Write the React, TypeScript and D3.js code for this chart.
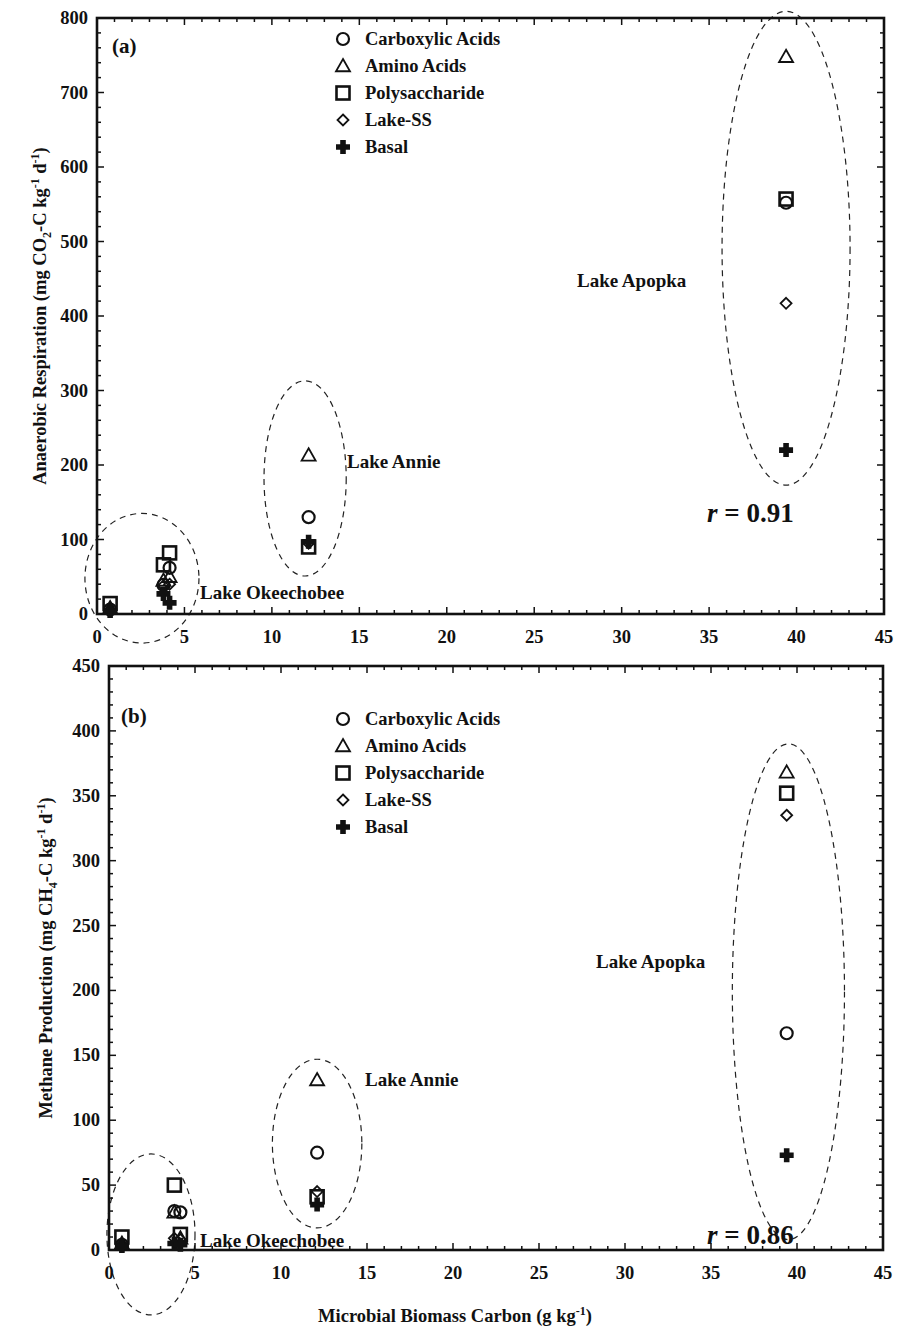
import React from 'react';
import * as d3 from 'd3';

// microbial biomass carbon (g/kg) per sampling site
const sites = ['Okeechobee 1', 'Okeechobee 2', 'Okeechobee 3', 'Annie', 'Apopka'];
const mbc = [0.75, 3.8, 4.15, 12.1, 39.4];

// (a) anaerobic respiration, mg CO2-C/kg/d
const carboxylicA = [6, 39, 62, 130, 552];
const aminoA = [8, 45, 50, 213, 748];
const polyA = [14, 66, 82, 90, 557];
const lakeSSA = [5, 38, 40, 95, 417];
const basalA = [4, 27, 15, 97, 220];

// (b) methane production, mg CH4-C/kg/d
const carboxylicB = [4, 30, 29, 75, 167];
const aminoB = [5, 29, 9, 131, 368];
const polyB = [10, 50, 12, 41, 352];
const lakeSSB = [4, 9, 8, 45, 335];
const basalB = [3, 5, 4, 35, 73];

const seriesNames = ['Carboxylic Acids', 'Amino Acids', 'Polysaccharide', 'Lake-SS', 'Basal'];
const seriesShapes = ['circle', 'triangle', 'square', 'diamond', 'plus'];
const xTicks = [0, 5, 10, 15, 20, 25, 30, 35, 40, 45];

// lake groupings, in data units [cx, cy, rx, ry]
const lakeNames = ['Lake Okeechobee', 'Lake Annie', 'Lake Apopka'];
const ellipsesA = [[2.57, 48, 3.26, 87], [11.9, 182, 2.35, 131], [39.4, 491, 3.66, 318]];
const ellipsesB = [[2.44, 12, 2.56, 62], [12.1, 82, 2.6, 65], [39.5, 199, 3.26, 191]];

const FONT = '"Liberation Serif", "Times New Roman", serif';

const Marker = ({shape, x, y}) => {
    if (shape === 'circle') {
        return <circle cx={x} cy={y} r={6} fill="none" stroke="#111" strokeWidth={2.2}/>;
    }
    if (shape === 'triangle') {
        const s = 7;
        return <path d={`M${x},${y - s}L${x + s},${y + s * 0.75}L${x - s},${y + s * 0.75}Z`}
                     fill="none" stroke="#111" strokeWidth={1.8}/>;
    }
    if (shape === 'square') {
        return <rect x={x - 6.5} y={y - 6.5} width={13} height={13} fill="none" stroke="#111" strokeWidth={2.6}/>;
    }
    if (shape === 'diamond') {
        const s = 5.5;
        return <path d={`M${x},${y - s}L${x + s},${y}L${x},${y + s}L${x - s},${y}Z`}
                     fill="none" stroke="#111" strokeWidth={1.8}/>;
    }
    // filled plus
    const a = 7, w = 2.8;
    return <path d={`M${x - w},${y - a}H${x + w}V${y - w}H${x + a}V${y + w}H${x + w}V${y + a}H${x - w}V${y + w}H${x - a}V${y - w}H${x - w}Z`}
                 fill="#111"/>;
};

const Panel = ({
                   left, right, top, bottom, yMax, yStep, yMinor, series, ellipses,
                   tag, tagPos, legendPos, lakeLabels, rText, rPos, yLabel, yLabelX
               }) => {
    const x = d3.scaleLinear().domain([0, 45]).range([left, right]);
    const y = d3.scaleLinear().domain([0, yMax]).range([bottom, top]);
    const yTicks = d3.range(0, yMax + 1, yStep);
    const xMinor = d3.range(0, 46, 1);
    const yMinorT = d3.range(0, yMax + 1, yMinor);

    return (
        <g fontFamily={FONT} fontWeight="bold" fill="#111">
            {/* ellipses */}
            {ellipses.map((e, i) => (
                <ellipse key={'e' + i} cx={x(e[0])} cy={y(e[1])}
                         rx={x(e[0] + e[2]) - x(e[0])} ry={y(0) - y(e[3])}
                         fill="none" stroke="#222" strokeWidth={1.2} strokeDasharray="6,5"/>
            ))}
            {/* minor ticks */}
            {xMinor.map(v => {
                const len = v % 5 === 0 ? 7 : 4;
                return (
                    <g key={'xm' + v}>
                        <line x1={x(v)} x2={x(v)} y1={bottom} y2={bottom - len} stroke="#111" strokeWidth={1.5}/>
                        <line x1={x(v)} x2={x(v)} y1={top} y2={top + len} stroke="#111" strokeWidth={1.5}/>
                    </g>
                );
            })}
            {yMinorT.map(v => {
                const len = v % yStep === 0 ? 7 : 4;
                return (
                    <g key={'ym' + v}>
                        <line x1={left} x2={left + len} y1={y(v)} y2={y(v)} stroke="#111" strokeWidth={1.5}/>
                        <line x1={right} x2={right - len} y1={y(v)} y2={y(v)} stroke="#111" strokeWidth={1.5}/>
                    </g>
                );
            })}
            {/* frame */}
            <rect x={left} y={top} width={right - left} height={bottom - top} fill="none" stroke="#111" strokeWidth={2.6}/>
            {/* tick labels */}
            {xTicks.map(v => (
                <text key={'xt' + v} x={x(v)} y={bottom + 29} textAnchor="middle" fontSize={18.5}>{v}</text>
            ))}
            {yTicks.map(v => (
                <text key={'yt' + v} x={left - 9} y={y(v) + 6} textAnchor="end" fontSize={18.5}>{v}</text>
            ))}
            {/* y label */}
            <text transform={`translate(${yLabelX},${(top + bottom) / 2}) rotate(-90)`} textAnchor="middle" fontSize={18.5}>
                {yLabel}
            </text>
            {/* points */}
            {series.map((vals, si) => vals.map((v, i) => (
                <Marker key={`p${si}-${i}`} shape={seriesShapes[si]} x={x(mbc[i])} y={y(v)}/>
            )))}
            {/* legend */}
            {seriesNames.map((name, i) => (
                <g key={'lg' + i}>
                    <Marker shape={seriesShapes[i]} x={legendPos[0]} y={legendPos[1] + i * 27}/>
                    <text x={legendPos[0] + 22} y={legendPos[1] + i * 27 + 6} fontSize={18.5}>{name}</text>
                </g>
            ))}
            <text x={tagPos[0]} y={tagPos[1]} fontSize={21}>{tag}</text>
            {lakeNames.map((n, i) => (
                <text key={'lk' + i} x={lakeLabels[i][0]} y={lakeLabels[i][1]} fontSize={19}>{n}</text>
            ))}
            <text x={rPos[0]} y={rPos[1]} fontSize={27}>
                <tspan fontStyle="italic">r</tspan> = {rText}
            </text>
        </g>
    );
};

const App = () => {
    const W = 903, H = 1330;
    const labelA = (
        <>
            Anaerobic Respiration (mg CO<tspan fontSize={12} dy={5}>2</tspan>
            <tspan dy={-5}>-C kg</tspan><tspan fontSize={12} dy={-7}>-1</tspan>
            <tspan dy={7}> d</tspan><tspan fontSize={12} dy={-7}>-1</tspan><tspan dy={7}>)</tspan>
        </>
    );
    const labelB = (
        <>
            Methane Production (mg CH<tspan fontSize={12} dy={5}>4</tspan>
            <tspan dy={-5}>-C kg</tspan><tspan fontSize={12} dy={-7}>-1</tspan>
            <tspan dy={7}> d</tspan><tspan fontSize={12} dy={-7}>-1</tspan><tspan dy={7}>)</tspan>
        </>
    );
    return (
        <svg width={W} height={H} style={{position: 'absolute', left: 0, top: 0, background: '#fff'}}>
            <rect width={W} height={H} fill="#fff"/>
            <Panel left={97} right={884} top={18} bottom={614} yMax={800} yStep={100} yMinor={20}
                   series={[carboxylicA, aminoA, polyA, lakeSSA, basalA]} ellipses={ellipsesA}
                   tag="(a)" tagPos={[112, 53]} legendPos={[343, 39]}
                   lakeLabels={[[200, 599], [347, 468], [577, 287]]}
                   rText="0.91" rPos={[707, 522]} yLabel={labelA} yLabelX={46}/>
            <Panel left={109} right={883} top={666} bottom={1250} yMax={450} yStep={50} yMinor={10}
                   series={[carboxylicB, aminoB, polyB, lakeSSB, basalB]} ellipses={ellipsesB}
                   tag="(b)" tagPos={[121, 723]} legendPos={[343, 719]}
                   lakeLabels={[[200, 1247], [365, 1086], [596, 968]]}
                   rText="0.86" rPos={[707, 1244]} yLabel={labelB} yLabelX={52}/>
            <text x={455} y={1322} textAnchor="middle" fontFamily={FONT} fontWeight="bold" fontSize={18.5} fill="#111">
                Microbial Biomass Carbon (g kg<tspan fontSize={12} dy={-7}>-1</tspan><tspan dy={7}>)</tspan>
            </text>
        </svg>
    );
};

export default App;
